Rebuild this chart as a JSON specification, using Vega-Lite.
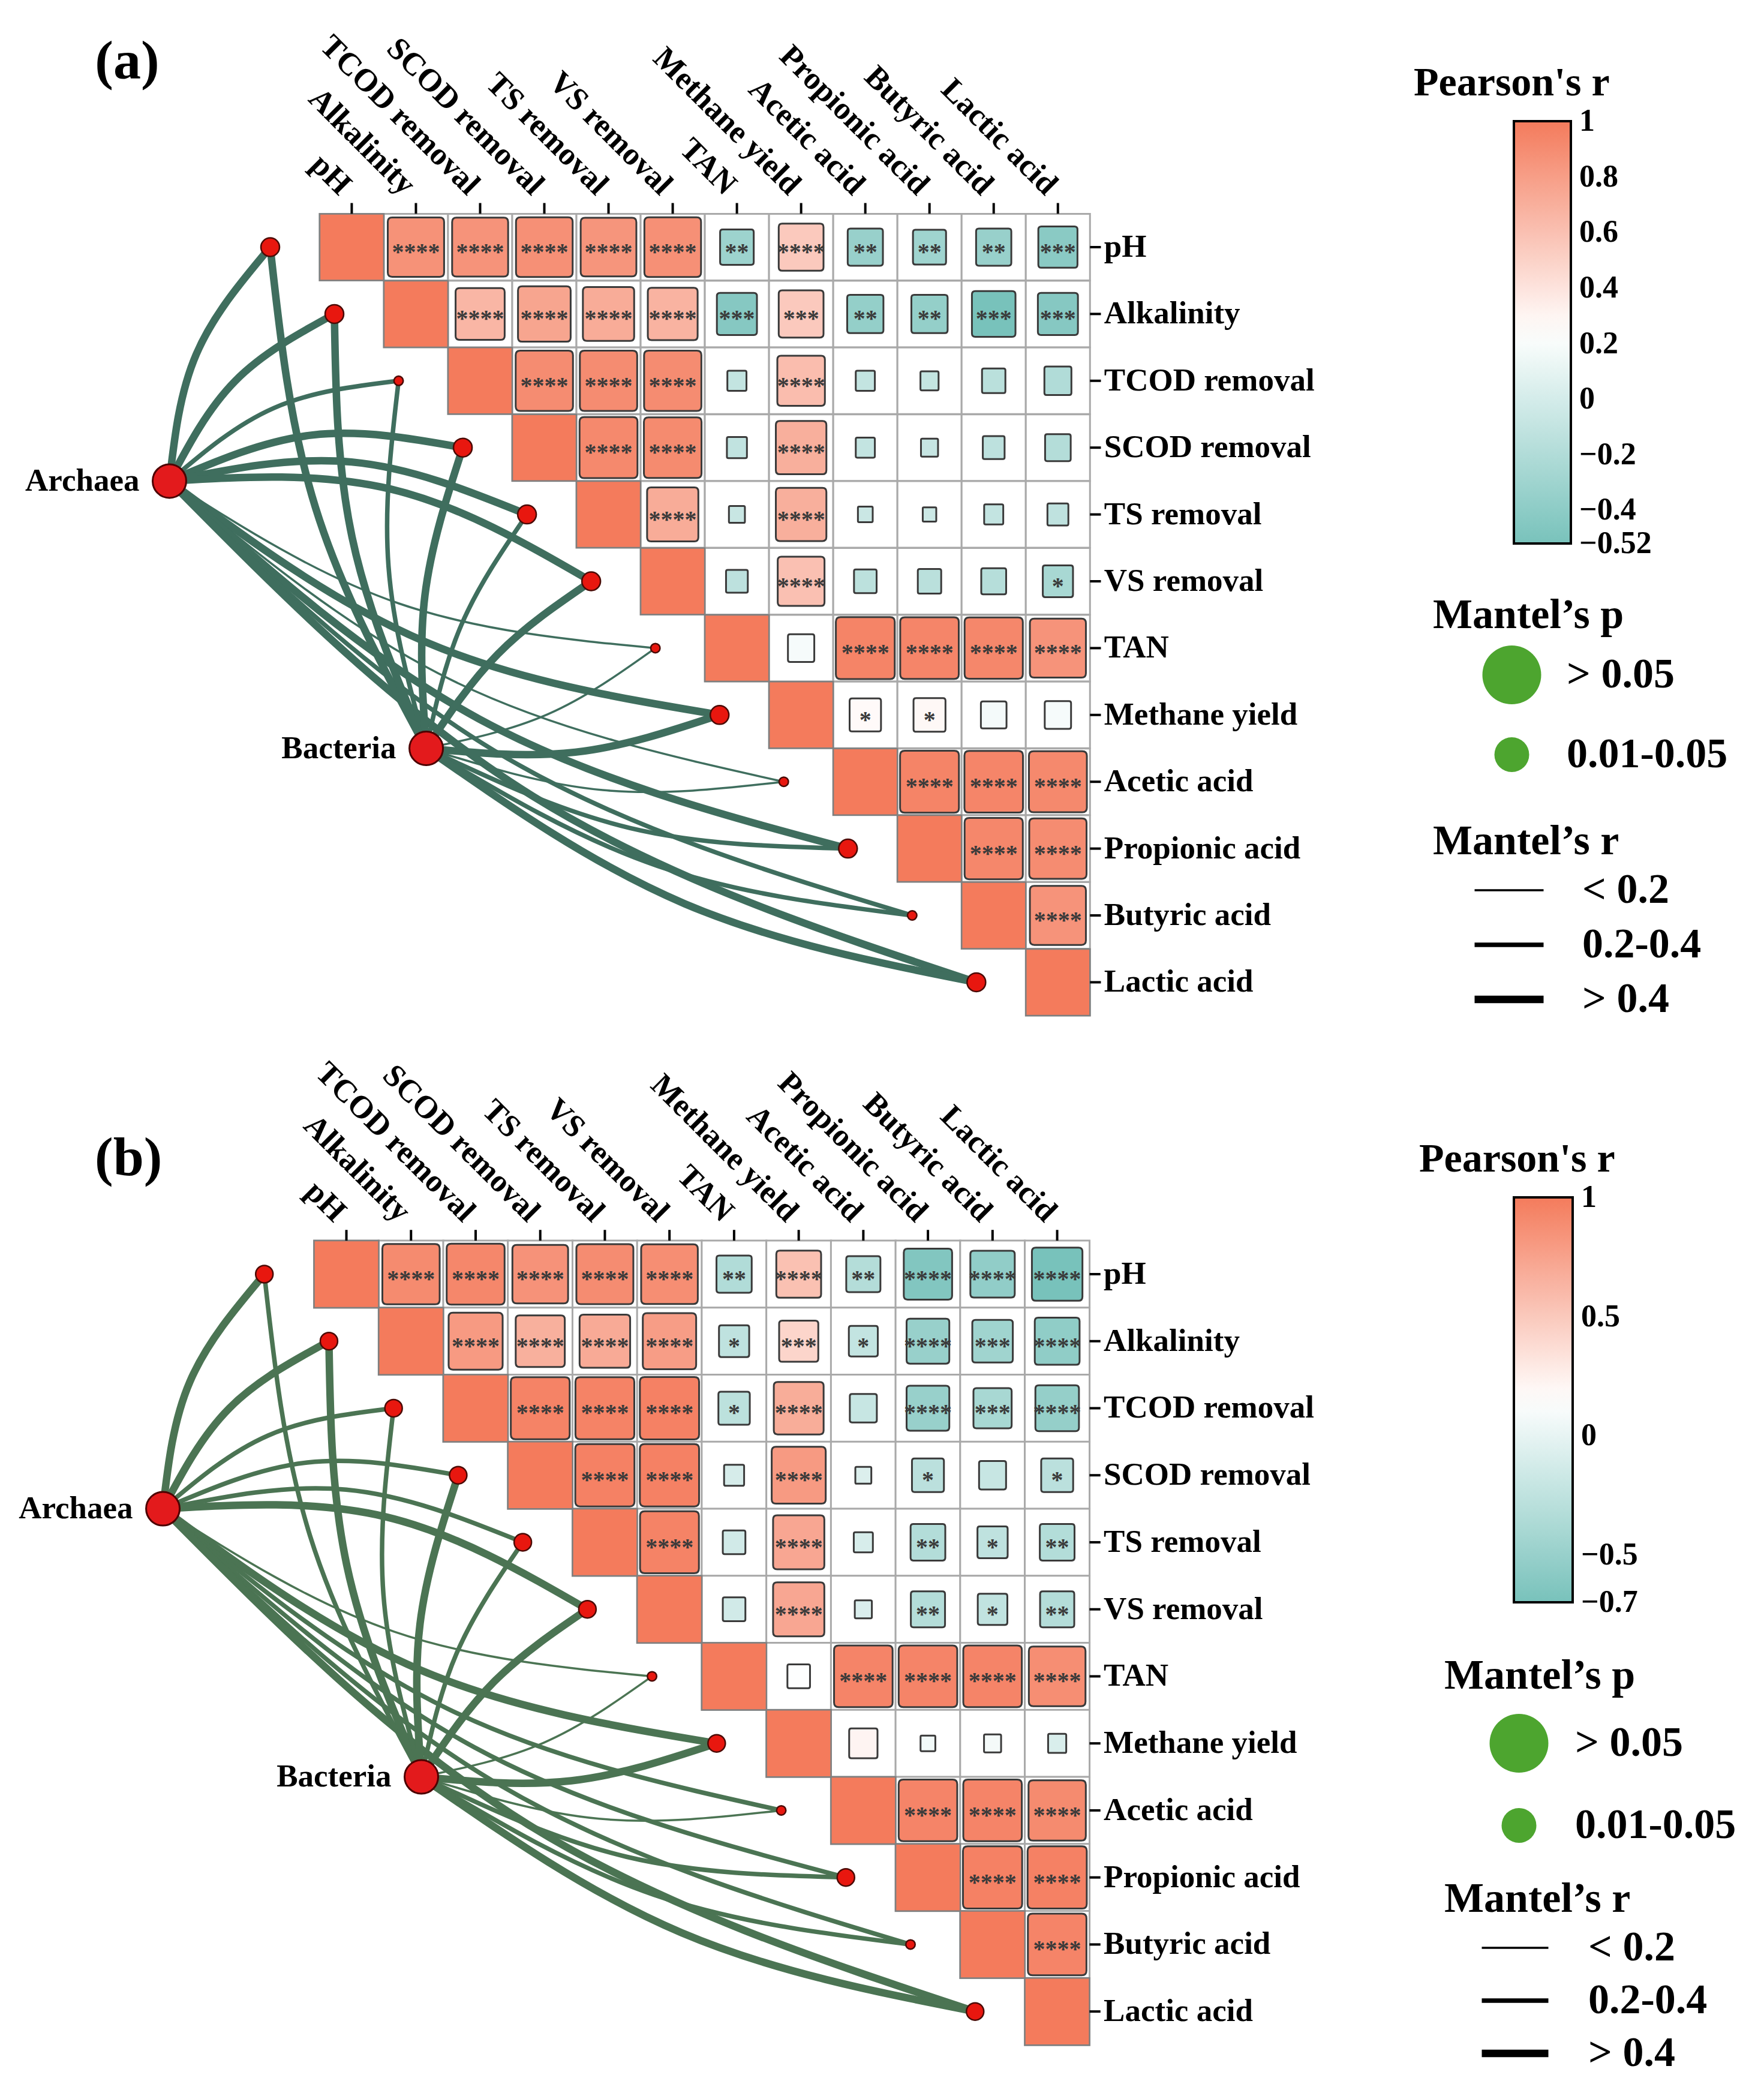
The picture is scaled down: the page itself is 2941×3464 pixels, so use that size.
{
"$schema": "https://vega.github.io/schema/vega-lite/v6.json",
"padding": 0,
"spacing": 0,
"background": "white",
"config": {"view": {"stroke": null}, "font": "Liberation Serif", "concat": {"spacing": 0},
  "legend": {"labelFont": "Liberation Serif", "labelFontWeight": "bold", "labelColor": "black", "titleFont": "Liberation Serif", "titleFontWeight": "bold", "titleColor": "black", "labelLimit": 3000, "titleLimit": 3000, "padding": 0, "titleAnchor": "start", "titleAlign": "left"}},
"datasets": {
"vars": [{"i":1,"v":"pH"},{"i":2,"v":"Alkalinity"},{"i":3,"v":"TCOD removal"},{"i":4,"v":"SCOD removal"},{"i":5,"v":"TS removal"},{"i":6,"v":"VS removal"},{"i":7,"v":"TAN"},{"i":8,"v":"Methane yield"},{"i":9,"v":"Acetic acid"},{"i":10,"v":"Propionic acid"},{"i":11,"v":"Butyric acid"},{"i":12,"v":"Lactic acid"}],
"cellsA": [
{"c":1,"rw":1,"r":1,"s":""},{"c":2,"rw":1,"r":0.87,"s":"****"},{"c":3,"rw":1,"r":0.86,"s":"****"},{"c":4,"rw":1,"r":0.88,"s":"****"},{"c":5,"rw":1,"r":0.85,"s":"****"},{"c":6,"rw":1,"r":0.88,"s":"****"},{"c":7,"rw":1,"r":-0.31,"s":"**"},{"c":8,"rw":1,"r":0.55,"s":"****"},{"c":9,"rw":1,"r":-0.34,"s":"**"},{"c":10,"rw":1,"r":-0.3,"s":"**"},{"c":11,"rw":1,"r":-0.34,"s":"**"},{"c":12,"rw":1,"r":-0.42,"s":"***"},
{"c":2,"rw":2,"r":1,"s":""},{"c":3,"rw":2,"r":0.66,"s":"****"},{"c":4,"rw":2,"r":0.76,"s":"****"},{"c":5,"rw":2,"r":0.72,"s":"****"},{"c":6,"rw":2,"r":0.68,"s":"****"},{"c":7,"rw":2,"r":-0.44,"s":"***"},{"c":8,"rw":2,"r":0.55,"s":"***"},{"c":9,"rw":2,"r":-0.36,"s":"**"},{"c":10,"rw":2,"r":-0.36,"s":"**"},{"c":11,"rw":2,"r":-0.52,"s":"***"},{"c":12,"rw":2,"r":-0.44,"s":"***"},
{"c":3,"rw":3,"r":1,"s":""},{"c":4,"rw":3,"r":0.9,"s":"****"},{"c":5,"rw":3,"r":0.9,"s":"****"},{"c":6,"rw":3,"r":0.9,"s":"****"},{"c":7,"rw":3,"r":-0.1,"s":""},{"c":8,"rw":3,"r":0.62,"s":"****"},{"c":9,"rw":3,"r":-0.1,"s":""},{"c":10,"rw":3,"r":-0.09,"s":""},{"c":11,"rw":3,"r":-0.15,"s":""},{"c":12,"rw":3,"r":-0.2,"s":""},
{"c":4,"rw":4,"r":1,"s":""},{"c":5,"rw":4,"r":0.92,"s":"****"},{"c":6,"rw":4,"r":0.91,"s":"****"},{"c":7,"rw":4,"r":-0.11,"s":""},{"c":8,"rw":4,"r":0.7,"s":"****"},{"c":9,"rw":4,"r":-0.1,"s":""},{"c":10,"rw":4,"r":-0.08,"s":""},{"c":11,"rw":4,"r":-0.13,"s":""},{"c":12,"rw":4,"r":-0.18,"s":""},
{"c":5,"rw":5,"r":1,"s":""},{"c":6,"rw":5,"r":0.72,"s":"****"},{"c":7,"rw":5,"r":-0.07,"s":""},{"c":8,"rw":5,"r":0.7,"s":"****"},{"c":9,"rw":5,"r":-0.06,"s":""},{"c":10,"rw":5,"r":-0.05,"s":""},{"c":11,"rw":5,"r":-0.1,"s":""},{"c":12,"rw":5,"r":-0.12,"s":""},
{"c":6,"rw":6,"r":1,"s":""},{"c":7,"rw":6,"r":-0.13,"s":""},{"c":8,"rw":6,"r":0.6,"s":"****"},{"c":9,"rw":6,"r":-0.14,"s":""},{"c":10,"rw":6,"r":-0.15,"s":""},{"c":11,"rw":6,"r":-0.17,"s":""},{"c":12,"rw":6,"r":-0.25,"s":"*"},
{"c":7,"rw":7,"r":1,"s":""},{"c":8,"rw":7,"r":0.19,"s":""},{"c":9,"rw":7,"r":0.95,"s":"****"},{"c":10,"rw":7,"r":0.94,"s":"****"},{"c":11,"rw":7,"r":0.93,"s":"****"},{"c":12,"rw":7,"r":0.86,"s":"****"},
{"c":8,"rw":8,"r":1,"s":""},{"c":9,"rw":8,"r":0.27,"s":"*"},{"c":10,"rw":8,"r":0.28,"s":"*"},{"c":11,"rw":8,"r":0.18,"s":""},{"c":12,"rw":8,"r":0.19,"s":""},
{"c":9,"rw":9,"r":1,"s":""},{"c":10,"rw":9,"r":0.95,"s":"****"},{"c":11,"rw":9,"r":0.94,"s":"****"},{"c":12,"rw":9,"r":0.92,"s":"****"},
{"c":10,"rw":10,"r":1,"s":""},{"c":11,"rw":10,"r":0.93,"s":"****"},{"c":12,"rw":10,"r":0.9,"s":"****"},
{"c":11,"rw":11,"r":1,"s":""},{"c":12,"rw":11,"r":0.86,"s":"****"},
{"c":12,"rw":12,"r":1,"s":""}
],
"cellsB": [
{"c":1,"rw":1,"r":1,"s":""},{"c":2,"rw":1,"r":0.9,"s":"****"},{"c":3,"rw":1,"r":0.92,"s":"****"},{"c":4,"rw":1,"r":0.85,"s":"****"},{"c":5,"rw":1,"r":0.89,"s":"****"},{"c":6,"rw":1,"r":0.88,"s":"****"},{"c":7,"rw":1,"r":-0.34,"s":"**"},{"c":8,"rw":1,"r":0.55,"s":"****"},{"c":9,"rw":1,"r":-0.32,"s":"**"},{"c":10,"rw":1,"r":-0.64,"s":"****"},{"c":11,"rw":1,"r":-0.54,"s":"****"},{"c":12,"rw":1,"r":-0.7,"s":"****"},
{"c":2,"rw":2,"r":1,"s":""},{"c":3,"rw":2,"r":0.8,"s":"****"},{"c":4,"rw":2,"r":0.66,"s":"****"},{"c":5,"rw":2,"r":0.7,"s":"****"},{"c":6,"rw":2,"r":0.78,"s":"****"},{"c":7,"rw":2,"r":-0.25,"s":"*"},{"c":8,"rw":2,"r":0.42,"s":"***"},{"c":9,"rw":2,"r":-0.23,"s":"*"},{"c":10,"rw":2,"r":-0.5,"s":"****"},{"c":11,"rw":2,"r":-0.45,"s":"***"},{"c":12,"rw":2,"r":-0.55,"s":"****"},
{"c":3,"rw":3,"r":1,"s":""},{"c":4,"rw":3,"r":0.95,"s":"****"},{"c":5,"rw":3,"r":0.95,"s":"****"},{"c":6,"rw":3,"r":0.96,"s":"****"},{"c":7,"rw":3,"r":-0.27,"s":"*"},{"c":8,"rw":3,"r":0.68,"s":"****"},{"c":9,"rw":3,"r":-0.2,"s":""},{"c":10,"rw":3,"r":-0.5,"s":"****"},{"c":11,"rw":3,"r":-0.4,"s":"***"},{"c":12,"rw":3,"r":-0.52,"s":"****"},
{"c":4,"rw":4,"r":1,"s":""},{"c":5,"rw":4,"r":0.96,"s":"****"},{"c":6,"rw":4,"r":0.96,"s":"****"},{"c":7,"rw":4,"r":-0.11,"s":""},{"c":8,"rw":4,"r":0.8,"s":"****"},{"c":9,"rw":4,"r":-0.07,"s":""},{"c":10,"rw":4,"r":-0.28,"s":"*"},{"c":11,"rw":4,"r":-0.2,"s":""},{"c":12,"rw":4,"r":-0.28,"s":"*"},
{"c":5,"rw":5,"r":1,"s":""},{"c":6,"rw":5,"r":0.95,"s":"****"},{"c":7,"rw":5,"r":-0.14,"s":""},{"c":8,"rw":5,"r":0.72,"s":"****"},{"c":9,"rw":5,"r":-0.1,"s":""},{"c":10,"rw":5,"r":-0.33,"s":"**"},{"c":11,"rw":5,"r":-0.25,"s":"*"},{"c":12,"rw":5,"r":-0.33,"s":"**"},
{"c":6,"rw":6,"r":1,"s":""},{"c":7,"rw":6,"r":-0.14,"s":""},{"c":8,"rw":6,"r":0.72,"s":"****"},{"c":9,"rw":6,"r":-0.08,"s":""},{"c":10,"rw":6,"r":-0.32,"s":"**"},{"c":11,"rw":6,"r":-0.24,"s":"*"},{"c":12,"rw":6,"r":-0.32,"s":"**"},
{"c":7,"rw":7,"r":1,"s":""},{"c":8,"rw":7,"r":0.14,"s":""},{"c":9,"rw":7,"r":0.94,"s":"****"},{"c":10,"rw":7,"r":0.94,"s":"****"},{"c":11,"rw":7,"r":0.94,"s":"****"},{"c":12,"rw":7,"r":0.88,"s":"****"},
{"c":8,"rw":8,"r":1,"s":""},{"c":9,"rw":8,"r":0.22,"s":""},{"c":10,"rw":8,"r":0.06,"s":""},{"c":11,"rw":8,"r":0.08,"s":""},{"c":12,"rw":8,"r":-0.09,"s":""},
{"c":9,"rw":9,"r":1,"s":""},{"c":10,"rw":9,"r":0.94,"s":"****"},{"c":11,"rw":9,"r":0.94,"s":"****"},{"c":12,"rw":9,"r":0.9,"s":"****"},
{"c":10,"rw":10,"r":1,"s":""},{"c":11,"rw":10,"r":0.96,"s":"****"},{"c":12,"rw":10,"r":0.96,"s":"****"},
{"c":11,"rw":11,"r":1,"s":""},{"c":12,"rw":11,"r":0.94,"s":"****"},
{"c":12,"rw":12,"r":1,"s":""}
],
"linksA": [
{"id":"A1","k":0,"x":-1.84,"y":4.5,"w":"> 0.4"},{"id":"A1","k":1,"x":-1.42,"y":2.599,"w":"> 0.4"},{"id":"A1","k":2,"x":-0.27,"y":1,"w":"> 0.4"},
{"id":"A2","k":0,"x":-1.84,"y":4.5,"w":"> 0.4"},{"id":"A2","k":1,"x":-0.815,"y":3.003,"w":"> 0.4"},{"id":"A2","k":2,"x":0.73,"y":2,"w":"> 0.4"},
{"id":"A3","k":0,"x":-1.84,"y":4.5,"w":"0.2-0.4"},{"id":"A3","k":1,"x":-0.211,"y":3.407,"w":"0.2-0.4"},{"id":"A3","k":2,"x":1.73,"y":3,"w":"0.2-0.4"},
{"id":"A4","k":0,"x":-1.84,"y":4.5,"w":"> 0.4"},{"id":"A4","k":1,"x":0.393,"y":3.811,"w":"> 0.4"},{"id":"A4","k":2,"x":2.73,"y":4,"w":"> 0.4"},
{"id":"A5","k":0,"x":-1.84,"y":4.5,"w":"> 0.4"},{"id":"A5","k":1,"x":0.997,"y":4.215,"w":"> 0.4"},{"id":"A5","k":2,"x":3.73,"y":5,"w":"> 0.4"},
{"id":"A6","k":0,"x":-1.84,"y":4.5,"w":"> 0.4"},{"id":"A6","k":1,"x":1.601,"y":4.619,"w":"> 0.4"},{"id":"A6","k":2,"x":4.73,"y":6,"w":"> 0.4"},
{"id":"A7","k":0,"x":-1.84,"y":4.5,"w":"< 0.2"},{"id":"A7","k":1,"x":1.736,"y":6.332,"w":"< 0.2"},{"id":"A7","k":2,"x":5.73,"y":7,"w":"< 0.2"},
{"id":"A8","k":0,"x":-1.84,"y":4.5,"w":"> 0.4"},{"id":"A8","k":1,"x":2.153,"y":6.909,"w":"> 0.4"},{"id":"A8","k":2,"x":6.73,"y":8,"w":"> 0.4"},
{"id":"A9","k":0,"x":-1.84,"y":4.5,"w":"< 0.2"},{"id":"A9","k":1,"x":2.57,"y":7.485,"w":"< 0.2"},{"id":"A9","k":2,"x":7.73,"y":9,"w":"< 0.2"},
{"id":"A10","k":0,"x":-1.84,"y":4.5,"w":"> 0.4"},{"id":"A10","k":1,"x":2.987,"y":8.062,"w":"> 0.4"},{"id":"A10","k":2,"x":8.73,"y":10,"w":"> 0.4"},
{"id":"A11","k":0,"x":-1.84,"y":4.5,"w":"0.2-0.4"},{"id":"A11","k":1,"x":3.404,"y":8.639,"w":"0.2-0.4"},{"id":"A11","k":2,"x":9.73,"y":11,"w":"0.2-0.4"},
{"id":"A12","k":0,"x":-1.84,"y":4.5,"w":"> 0.4"},{"id":"A12","k":1,"x":3.821,"y":9.216,"w":"> 0.4"},{"id":"A12","k":2,"x":10.73,"y":12,"w":"> 0.4"},
{"id":"B1","k":0,"x":2.16,"y":8.5,"w":"> 0.4"},{"id":"B1","k":1,"x":0.437,"y":4.902,"w":"> 0.4"},{"id":"B1","k":2,"x":-0.27,"y":1,"w":"> 0.4"},
{"id":"B2","k":0,"x":2.16,"y":8.5,"w":"> 0.4"},{"id":"B2","k":1,"x":1.005,"y":5.339,"w":"> 0.4"},{"id":"B2","k":2,"x":0.73,"y":2,"w":"> 0.4"},
{"id":"B3","k":0,"x":2.16,"y":8.5,"w":"0.2-0.4"},{"id":"B3","k":1,"x":1.573,"y":5.777,"w":"0.2-0.4"},{"id":"B3","k":2,"x":1.73,"y":3,"w":"0.2-0.4"},
{"id":"B4","k":0,"x":2.16,"y":8.5,"w":"> 0.4"},{"id":"B4","k":1,"x":2.14,"y":6.214,"w":"> 0.4"},{"id":"B4","k":2,"x":2.73,"y":4,"w":"> 0.4"},
{"id":"B5","k":0,"x":2.16,"y":8.5,"w":"0.2-0.4"},{"id":"B5","k":1,"x":2.708,"y":6.652,"w":"0.2-0.4"},{"id":"B5","k":2,"x":3.73,"y":5,"w":"0.2-0.4"},
{"id":"B6","k":0,"x":2.16,"y":8.5,"w":"> 0.4"},{"id":"B6","k":1,"x":3.276,"y":7.089,"w":"> 0.4"},{"id":"B6","k":2,"x":4.73,"y":6,"w":"> 0.4"},
{"id":"B7","k":0,"x":2.16,"y":8.5,"w":"< 0.2"},{"id":"B7","k":1,"x":4.054,"y":7.99,"w":"< 0.2"},{"id":"B7","k":2,"x":5.73,"y":7,"w":"< 0.2"},
{"id":"B8","k":0,"x":2.16,"y":8.5,"w":"> 0.4"},{"id":"B8","k":1,"x":4.481,"y":8.557,"w":"> 0.4"},{"id":"B8","k":2,"x":6.73,"y":8,"w":"> 0.4"},
{"id":"B9","k":0,"x":2.16,"y":8.5,"w":"< 0.2"},{"id":"B9","k":1,"x":4.909,"y":9.124,"w":"< 0.2"},{"id":"B9","k":2,"x":7.73,"y":9,"w":"< 0.2"},
{"id":"B10","k":0,"x":2.16,"y":8.5,"w":"0.2-0.4"},{"id":"B10","k":1,"x":5.336,"y":9.692,"w":"0.2-0.4"},{"id":"B10","k":2,"x":8.73,"y":10,"w":"0.2-0.4"},
{"id":"B11","k":0,"x":2.16,"y":8.5,"w":"0.2-0.4"},{"id":"B11","k":1,"x":5.763,"y":10.259,"w":"0.2-0.4"},{"id":"B11","k":2,"x":9.73,"y":11,"w":"0.2-0.4"},
{"id":"B12","k":0,"x":2.16,"y":8.5,"w":"> 0.4"},{"id":"B12","k":1,"x":6.19,"y":10.826,"w":"> 0.4"},{"id":"B12","k":2,"x":10.73,"y":12,"w":"> 0.4"}
],
"linksB": [
{"id":"A1","k":0,"x":-1.84,"y":4.5,"w":"> 0.4"},{"id":"A1","k":1,"x":-1.42,"y":2.599,"w":"> 0.4"},{"id":"A1","k":2,"x":-0.27,"y":1,"w":"> 0.4"},
{"id":"A2","k":0,"x":-1.84,"y":4.5,"w":"> 0.4"},{"id":"A2","k":1,"x":-0.815,"y":3.003,"w":"> 0.4"},{"id":"A2","k":2,"x":0.73,"y":2,"w":"> 0.4"},
{"id":"A3","k":0,"x":-1.84,"y":4.5,"w":"0.2-0.4"},{"id":"A3","k":1,"x":-0.211,"y":3.407,"w":"0.2-0.4"},{"id":"A3","k":2,"x":1.73,"y":3,"w":"0.2-0.4"},
{"id":"A4","k":0,"x":-1.84,"y":4.5,"w":"0.2-0.4"},{"id":"A4","k":1,"x":0.393,"y":3.811,"w":"0.2-0.4"},{"id":"A4","k":2,"x":2.73,"y":4,"w":"0.2-0.4"},
{"id":"A5","k":0,"x":-1.84,"y":4.5,"w":"0.2-0.4"},{"id":"A5","k":1,"x":0.997,"y":4.215,"w":"0.2-0.4"},{"id":"A5","k":2,"x":3.73,"y":5,"w":"0.2-0.4"},
{"id":"A6","k":0,"x":-1.84,"y":4.5,"w":"> 0.4"},{"id":"A6","k":1,"x":1.601,"y":4.619,"w":"> 0.4"},{"id":"A6","k":2,"x":4.73,"y":6,"w":"> 0.4"},
{"id":"A7","k":0,"x":-1.84,"y":4.5,"w":"< 0.2"},{"id":"A7","k":1,"x":1.736,"y":6.332,"w":"< 0.2"},{"id":"A7","k":2,"x":5.73,"y":7,"w":"< 0.2"},
{"id":"A8","k":0,"x":-1.84,"y":4.5,"w":"> 0.4"},{"id":"A8","k":1,"x":2.153,"y":6.909,"w":"> 0.4"},{"id":"A8","k":2,"x":6.73,"y":8,"w":"> 0.4"},
{"id":"A9","k":0,"x":-1.84,"y":4.5,"w":"0.2-0.4"},{"id":"A9","k":1,"x":2.57,"y":7.485,"w":"0.2-0.4"},{"id":"A9","k":2,"x":7.73,"y":9,"w":"0.2-0.4"},
{"id":"A10","k":0,"x":-1.84,"y":4.5,"w":"0.2-0.4"},{"id":"A10","k":1,"x":2.987,"y":8.062,"w":"0.2-0.4"},{"id":"A10","k":2,"x":8.73,"y":10,"w":"0.2-0.4"},
{"id":"A11","k":0,"x":-1.84,"y":4.5,"w":"0.2-0.4"},{"id":"A11","k":1,"x":3.404,"y":8.639,"w":"0.2-0.4"},{"id":"A11","k":2,"x":9.73,"y":11,"w":"0.2-0.4"},
{"id":"A12","k":0,"x":-1.84,"y":4.5,"w":"> 0.4"},{"id":"A12","k":1,"x":3.821,"y":9.216,"w":"> 0.4"},{"id":"A12","k":2,"x":10.73,"y":12,"w":"> 0.4"},
{"id":"B1","k":0,"x":2.16,"y":8.5,"w":"0.2-0.4"},{"id":"B1","k":1,"x":0.437,"y":4.902,"w":"0.2-0.4"},{"id":"B1","k":2,"x":-0.27,"y":1,"w":"0.2-0.4"},
{"id":"B2","k":0,"x":2.16,"y":8.5,"w":"> 0.4"},{"id":"B2","k":1,"x":1.005,"y":5.339,"w":"> 0.4"},{"id":"B2","k":2,"x":0.73,"y":2,"w":"> 0.4"},
{"id":"B3","k":0,"x":2.16,"y":8.5,"w":"0.2-0.4"},{"id":"B3","k":1,"x":1.573,"y":5.777,"w":"0.2-0.4"},{"id":"B3","k":2,"x":1.73,"y":3,"w":"0.2-0.4"},
{"id":"B4","k":0,"x":2.16,"y":8.5,"w":"> 0.4"},{"id":"B4","k":1,"x":2.14,"y":6.214,"w":"> 0.4"},{"id":"B4","k":2,"x":2.73,"y":4,"w":"> 0.4"},
{"id":"B5","k":0,"x":2.16,"y":8.5,"w":"0.2-0.4"},{"id":"B5","k":1,"x":2.708,"y":6.652,"w":"0.2-0.4"},{"id":"B5","k":2,"x":3.73,"y":5,"w":"0.2-0.4"},
{"id":"B6","k":0,"x":2.16,"y":8.5,"w":"> 0.4"},{"id":"B6","k":1,"x":3.276,"y":7.089,"w":"> 0.4"},{"id":"B6","k":2,"x":4.73,"y":6,"w":"> 0.4"},
{"id":"B7","k":0,"x":2.16,"y":8.5,"w":"< 0.2"},{"id":"B7","k":1,"x":4.054,"y":7.99,"w":"< 0.2"},{"id":"B7","k":2,"x":5.73,"y":7,"w":"< 0.2"},
{"id":"B8","k":0,"x":2.16,"y":8.5,"w":"> 0.4"},{"id":"B8","k":1,"x":4.481,"y":8.557,"w":"> 0.4"},{"id":"B8","k":2,"x":6.73,"y":8,"w":"> 0.4"},
{"id":"B9","k":0,"x":2.16,"y":8.5,"w":"< 0.2"},{"id":"B9","k":1,"x":4.909,"y":9.124,"w":"< 0.2"},{"id":"B9","k":2,"x":7.73,"y":9,"w":"< 0.2"},
{"id":"B10","k":0,"x":2.16,"y":8.5,"w":"0.2-0.4"},{"id":"B10","k":1,"x":5.336,"y":9.692,"w":"0.2-0.4"},{"id":"B10","k":2,"x":8.73,"y":10,"w":"0.2-0.4"},
{"id":"B11","k":0,"x":2.16,"y":8.5,"w":"0.2-0.4"},{"id":"B11","k":1,"x":5.763,"y":10.259,"w":"0.2-0.4"},{"id":"B11","k":2,"x":9.73,"y":11,"w":"0.2-0.4"},
{"id":"B12","k":0,"x":2.16,"y":8.5,"w":"> 0.4"},{"id":"B12","k":1,"x":6.19,"y":10.826,"w":"> 0.4"},{"id":"B12","k":2,"x":10.73,"y":12,"w":"> 0.4"}
],
"nodesA": [
{"v":"pH","x":-0.27,"y":1,"p":"> 0.05"},{"v":"Alkalinity","x":0.73,"y":2,"p":"> 0.05"},{"v":"TCOD removal","x":1.73,"y":3,"p":"0.01-0.05"},{"v":"SCOD removal","x":2.73,"y":4,"p":"> 0.05"},{"v":"TS removal","x":3.73,"y":5,"p":"> 0.05"},{"v":"VS removal","x":4.73,"y":6,"p":"> 0.05"},{"v":"TAN","x":5.73,"y":7,"p":"0.01-0.05"},{"v":"Methane yield","x":6.73,"y":8,"p":"> 0.05"},{"v":"Acetic acid","x":7.73,"y":9,"p":"0.01-0.05"},{"v":"Propionic acid","x":8.73,"y":10,"p":"> 0.05"},{"v":"Butyric acid","x":9.73,"y":11,"p":"0.01-0.05"},{"v":"Lactic acid","x":10.73,"y":12,"p":"> 0.05"}
],
"nodesB": [
{"v":"pH","x":-0.27,"y":1,"p":"> 0.05"},{"v":"Alkalinity","x":0.73,"y":2,"p":"> 0.05"},{"v":"TCOD removal","x":1.73,"y":3,"p":"> 0.05"},{"v":"SCOD removal","x":2.73,"y":4,"p":"> 0.05"},{"v":"TS removal","x":3.73,"y":5,"p":"> 0.05"},{"v":"VS removal","x":4.73,"y":6,"p":"> 0.05"},{"v":"TAN","x":5.73,"y":7,"p":"0.01-0.05"},{"v":"Methane yield","x":6.73,"y":8,"p":"> 0.05"},{"v":"Acetic acid","x":7.73,"y":9,"p":"0.01-0.05"},{"v":"Propionic acid","x":8.73,"y":10,"p":"> 0.05"},{"v":"Butyric acid","x":9.73,"y":11,"p":"0.01-0.05"},{"v":"Lactic acid","x":10.73,"y":12,"p":"> 0.05"}
],
"hubs": [{"h":"Archaea","x":-1.84,"y":4.5},{"h":"Bacteria","x":2.16,"y":8.5}]
},
"resolve": {"scale": {"color": "independent", "size": "independent", "strokeWidth": "independent", "x": "independent", "y": "independent"}, "legend": {"color": "independent", "size": "independent", "strokeWidth": "independent"}},
"vconcat": [
{
"width": 2941, "height": 1732,
"resolve": {"scale": {"size": "independent"}, "legend": {"size": "independent"}},
"layer": [
{"data": {"name": "cellsA"},
 "mark": {"type": "rect", "width": 107, "height": 111, "fill": "white", "stroke": "#A9A9A9", "strokeWidth": 3},
 "encoding": {
  "x": {"field": "c", "type": "quantitative", "scale": {"domain": [-4.479, 22.999], "nice": false, "zero": false}, "axis": null},
  "y": {"field": "rw", "type": "quantitative", "scale": {"domain": [-2.698, 12.849], "reverse": true, "nice": false, "zero": false}, "axis": null}
 }},
{"data": {"name": "cellsA"}, "transform": [{"filter": "datum.c == datum.rw"}],
 "mark": {"type": "rect", "width": 107, "height": 111, "stroke": "#7F7F7F", "strokeWidth": 2.5},
 "encoding": {
  "x": {"field": "c", "type": "quantitative", "scale": {"domain": [-4.479, 22.999], "nice": false, "zero": false}, "axis": null},
  "y": {"field": "rw", "type": "quantitative", "scale": {"domain": [-2.698, 12.849], "reverse": true, "nice": false, "zero": false}, "axis": null},
  "color": {"field": "r", "type": "quantitative", "scale": {"domain": [-0.52, 0.24, 1], "range": ["#78C2BB", "#FFFFFF", "#F47B5C"], "interpolate": "rgb"},
   "legend": {"title": "Pearson's r", "orient": "none", "legendX": 2357, "legendY": 105, "direction": "vertical", "gradientLength": 704, "gradientThickness": 95, "gradientStrokeColor": "black", "gradientStrokeWidth": 4, "values": [-0.52,-0.4,-0.2,0,0.2,0.4,0.6,0.8,1], "format": ".2~f", "labelFontSize": 52, "labelBaseline": "middle", "labelOffset": 14, "labelOverlap": false, "titleFontSize": 68, "titlePadding": 29, "encode": {"title": {"update": {"dx": {"value": -167}}}, "labels": {"update": {"baseline": {"value": "middle"}}}}}}
 }},
{"data": {"name": "cellsA"}, "transform": [{"filter": "datum.c != datum.rw"}],
 "mark": {"type": "point", "filled": true, "opacity": 1, "shape": "M-0.8,-1L0.8,-1Q0.95,-1 0.95,-0.85L0.95,0.85Q0.95,1 0.8,1L-0.8,1Q-0.95,1 -0.95,0.85L-0.95,-0.85Q-0.95,-1 -0.8,-1Z", "stroke": "#3A3A3A", "strokeWidth": 3},
 "encoding": {
  "x": {"field": "c", "type": "quantitative", "scale": {"domain": [-4.479, 22.999], "nice": false, "zero": false}, "axis": null},
  "y": {"field": "rw", "type": "quantitative", "scale": {"domain": [-2.698, 12.849], "reverse": true, "nice": false, "zero": false}, "axis": null},
  "color": {"field": "r", "type": "quantitative", "scale": {"domain": [-0.52, 0.24, 1], "range": ["#78C2BB", "#FFFFFF", "#F47B5C"], "interpolate": "rgb"},
   "legend": {"title": "Pearson's r", "orient": "none", "legendX": 2357, "legendY": 105, "direction": "vertical", "gradientLength": 704, "gradientThickness": 95, "gradientStrokeColor": "black", "gradientStrokeWidth": 4, "values": [-0.52,-0.4,-0.2,0,0.2,0.4,0.6,0.8,1], "format": ".2~f", "labelFontSize": 52, "labelBaseline": "middle", "labelOffset": 14, "labelOverlap": false, "titleFontSize": 68, "titlePadding": 29, "encode": {"title": {"update": {"dx": {"value": -167}}}, "labels": {"update": {"baseline": {"value": "middle"}}}}}},
  "size": {"field": "r", "type": "quantitative", "scale": {"domain": [-1, 0, 1], "range": [11236, 0, 11236]}, "legend": null}
 }},
{"data": {"name": "cellsA"}, "transform": [{"filter": "datum.s != ''"}],
 "mark": {"type": "text", "fontSize": 40, "fontWeight": "bold", "color": "#3A3A3A", "baseline": "middle", "align": "center", "dy": 9},
 "encoding": {
  "x": {"field": "c", "type": "quantitative", "scale": {"domain": [-4.479, 22.999], "nice": false, "zero": false}, "axis": null},
  "y": {"field": "rw", "type": "quantitative", "scale": {"domain": [-2.698, 12.849], "reverse": true, "nice": false, "zero": false}, "axis": null},
  "text": {"field": "s"}
 }},
{"data": {"name": "vars"},
 "mark": {"type": "rule", "color": "black", "strokeWidth": 4},
 "encoding": {
  "x": {"field": "i", "type": "quantitative", "scale": {"domain": [-4.479, 22.999], "nice": false, "zero": false}, "axis": null},
  "y": {"datum": 0.5, "type": "quantitative", "scale": {"domain": [-2.698, 12.849], "reverse": true, "nice": false, "zero": false}, "axis": null},
  "y2": {"datum": 0.34}
 }},
{"data": {"name": "vars"},
 "mark": {"type": "text", "angle": 45, "align": "right", "baseline": "middle", "dx": -14, "fontSize": 53, "fontWeight": "bold", "color": "black"},
 "encoding": {
  "x": {"field": "i", "type": "quantitative", "scale": {"domain": [-4.479, 22.999], "nice": false, "zero": false}, "axis": null},
  "y": {"datum": 0.23, "type": "quantitative", "scale": {"domain": [-2.698, 12.849], "reverse": true, "nice": false, "zero": false}, "axis": null},
  "text": {"field": "v"}
 }},
{"data": {"name": "vars"},
 "mark": {"type": "rule", "color": "black", "strokeWidth": 4},
 "encoding": {
  "y": {"field": "i", "type": "quantitative", "scale": {"domain": [-2.698, 12.849], "reverse": true, "nice": false, "zero": false}, "axis": null},
  "x": {"datum": 12.5, "type": "quantitative", "scale": {"domain": [-4.479, 22.999], "nice": false, "zero": false}, "axis": null},
  "x2": {"datum": 12.67}
 }},
{"data": {"name": "vars"},
 "mark": {"type": "text", "align": "left", "baseline": "middle", "fontSize": 53, "fontWeight": "bold", "color": "black"},
 "encoding": {
  "y": {"field": "i", "type": "quantitative", "scale": {"domain": [-2.698, 12.849], "reverse": true, "nice": false, "zero": false}, "axis": null},
  "x": {"datum": 12.72, "type": "quantitative", "scale": {"domain": [-4.479, 22.999], "nice": false, "zero": false}, "axis": null},
  "text": {"field": "v"}
 }},
{"data": {"values": [{"t": "(a)"}]},
 "mark": {"type": "text", "align": "left", "baseline": "alphabetic", "fontSize": 92, "fontWeight": "bold", "color": "black"},
 "encoding": {
  "x": {"datum": -3.0, "type": "quantitative", "scale": {"domain": [-4.479, 22.999], "nice": false, "zero": false}, "axis": null},
  "y": {"datum": -1.52, "type": "quantitative", "scale": {"domain": [-2.698, 12.849], "reverse": true, "nice": false, "zero": false}, "axis": null},
  "text": {"field": "t"}
 }},
{"data": {"name": "linksA"},
 "mark": {"type": "line", "interpolate": "natural", "color": "#3F6E5E", "strokeCap": "round"},
 "encoding": {
  "x": {"field": "x", "type": "quantitative", "scale": {"domain": [-4.479, 22.999], "nice": false, "zero": false}, "axis": null},
  "y": {"field": "y", "type": "quantitative", "scale": {"domain": [-2.698, 12.849], "reverse": true, "nice": false, "zero": false}, "axis": null},
  "detail": {"field": "id"},
  "order": {"field": "k", "type": "quantitative"},
  "strokeWidth": {"field": "w", "type": "nominal", "scale": {"type": "ordinal", "domain": ["< 0.2", "0.2-0.4", "> 0.4"], "range": [3.5, 7.5, 12.5]},
   "legend": {"title": "Mantel’s r", "orient": "none", "legendX": 2389, "legendY": 1369, "direction": "vertical", "symbolType": "stroke", "symbolSize": 13225, "symbolOffset": 63, "labelOffset": 58, "clipHeight": 60, "rowPadding": 21, "titlePadding": 15, "titleFontSize": 70, "labelFontSize": 70, "symbolStrokeColor": "black", "encode": {"symbols": {"update": {"stroke": {"value": "black"}}}}}}
 }},
{"data": {"name": "nodesA"},
 "mark": {"type": "circle", "color": "#E8170F", "stroke": "#4A0A05", "strokeWidth": 2.5, "opacity": 1},
 "encoding": {
  "x": {"field": "x", "type": "quantitative", "scale": {"domain": [-4.479, 22.999], "nice": false, "zero": false}, "axis": null},
  "y": {"field": "y", "type": "quantitative", "scale": {"domain": [-2.698, 12.849], "reverse": true, "nice": false, "zero": false}, "axis": null},
  "size": {"field": "p", "type": "nominal", "scale": {"type": "ordinal", "domain": ["> 0.05", "0.01-0.05"], "range": [961, 240]}, "legend": null}
 }},
{"data": {"name": "nodesA"},
 "mark": {"type": "circle", "color": "#4DA52F", "stroke": "#1E5B14", "strokeWidth": 5, "opacity": 0},
 "encoding": {
  "x": {"field": "x", "type": "quantitative", "scale": {"domain": [-4.479, 22.999], "nice": false, "zero": false}, "axis": null},
  "y": {"field": "y", "type": "quantitative", "scale": {"domain": [-2.698, 12.849], "reverse": true, "nice": false, "zero": false}, "axis": null},
  "size": {"field": "p", "type": "nominal", "scale": {"type": "ordinal", "domain": ["> 0.05", "0.01-0.05"], "range": [9604, 3364]},
   "legend": {"title": "Mantel’s p", "orient": "none", "legendX": 2389, "legendY": 992, "direction": "vertical", "symbolOffset": 80, "labelOffset": 40, "clipHeight": 100, "rowPadding": 33, "titlePadding": 13, "titleFontSize": 70, "labelFontSize": 70, "symbolOpacity": 1, "symbolFillColor": "#4DA52F", "symbolStrokeColor": "#1E5B14", "symbolStrokeWidth": 5, "encode": {"symbols": {"update": {"opacity": {"value": 1}, "fill": {"value": "#4DA52F"}, "stroke": {"value": "#1E5B14"}}}}}}
 }},
{"data": {"name": "hubs"},
 "mark": {"type": "circle", "size": 3136, "color": "#E31A1C", "stroke": "#4D0000", "strokeWidth": 3, "opacity": 1},
 "encoding": {
  "x": {"field": "x", "type": "quantitative", "scale": {"domain": [-4.479, 22.999], "nice": false, "zero": false}, "axis": null},
  "y": {"field": "y", "type": "quantitative", "scale": {"domain": [-2.698, 12.849], "reverse": true, "nice": false, "zero": false}, "axis": null}
 }},
{"data": {"name": "hubs"},
 "mark": {"type": "text", "align": "right", "baseline": "middle", "dx": -50, "fontSize": 53, "fontWeight": "bold", "color": "black"},
 "encoding": {
  "x": {"field": "x", "type": "quantitative", "scale": {"domain": [-4.479, 22.999], "nice": false, "zero": false}, "axis": null},
  "y": {"field": "y", "type": "quantitative", "scale": {"domain": [-2.698, 12.849], "reverse": true, "nice": false, "zero": false}, "axis": null},
  "text": {"field": "h"}
 }}
]
},
{
"width": 2941, "height": 1732,
"resolve": {"scale": {"size": "independent"}, "legend": {"size": "independent"}},
"layer": [
{"data": {"name": "cellsB"},
 "mark": {"type": "rect", "width": 108, "height": 112, "fill": "white", "stroke": "#A9A9A9", "strokeWidth": 3},
 "encoding": {
  "x": {"field": "c", "type": "quantitative", "scale": {"domain": [-4.361, 22.939], "nice": false, "zero": false}, "axis": null},
  "y": {"field": "rw", "type": "quantitative", "scale": {"domain": [-2.508, 12.992], "reverse": true, "nice": false, "zero": false}, "axis": null}
 }},
{"data": {"name": "cellsB"}, "transform": [{"filter": "datum.c == datum.rw"}],
 "mark": {"type": "rect", "width": 108, "height": 112, "stroke": "#7F7F7F", "strokeWidth": 2.5},
 "encoding": {
  "x": {"field": "c", "type": "quantitative", "scale": {"domain": [-4.361, 22.939], "nice": false, "zero": false}, "axis": null},
  "y": {"field": "rw", "type": "quantitative", "scale": {"domain": [-2.508, 12.992], "reverse": true, "nice": false, "zero": false}, "axis": null},
  "color": {"field": "r", "type": "quantitative", "scale": {"domain": [-0.7, 0.15, 1], "range": ["#78C2BB", "#FFFFFF", "#F47B5C"], "interpolate": "rgb"},
   "legend": {"title": "Pearson's r", "orient": "none", "legendX": 2366, "legendY": 167, "direction": "vertical", "gradientLength": 675, "gradientThickness": 98, "gradientStrokeColor": "black", "gradientStrokeWidth": 4, "values": [-0.7,-0.5,0,0.5,1], "format": ".2~f", "labelFontSize": 52, "labelBaseline": "middle", "labelOffset": 14, "labelOverlap": false, "titleFontSize": 68, "titlePadding": 29, "encode": {"title": {"update": {"dx": {"value": -158}}}, "labels": {"update": {"baseline": {"value": "middle"}}}}}}
 }},
{"data": {"name": "cellsB"}, "transform": [{"filter": "datum.c != datum.rw"}],
 "mark": {"type": "point", "filled": true, "opacity": 1, "shape": "M-0.8,-1L0.8,-1Q0.95,-1 0.95,-0.85L0.95,0.85Q0.95,1 0.8,1L-0.8,1Q-0.95,1 -0.95,0.85L-0.95,-0.85Q-0.95,-1 -0.8,-1Z", "stroke": "#3A3A3A", "strokeWidth": 3},
 "encoding": {
  "x": {"field": "c", "type": "quantitative", "scale": {"domain": [-4.361, 22.939], "nice": false, "zero": false}, "axis": null},
  "y": {"field": "rw", "type": "quantitative", "scale": {"domain": [-2.508, 12.992], "reverse": true, "nice": false, "zero": false}, "axis": null},
  "color": {"field": "r", "type": "quantitative", "scale": {"domain": [-0.7, 0.15, 1], "range": ["#78C2BB", "#FFFFFF", "#F47B5C"], "interpolate": "rgb"},
   "legend": {"title": "Pearson's r", "orient": "none", "legendX": 2366, "legendY": 167, "direction": "vertical", "gradientLength": 675, "gradientThickness": 98, "gradientStrokeColor": "black", "gradientStrokeWidth": 4, "values": [-0.7,-0.5,0,0.5,1], "format": ".2~f", "labelFontSize": 52, "labelBaseline": "middle", "labelOffset": 14, "labelOverlap": false, "titleFontSize": 68, "titlePadding": 29, "encode": {"title": {"update": {"dx": {"value": -158}}}, "labels": {"update": {"baseline": {"value": "middle"}}}}}},
  "size": {"field": "r", "type": "quantitative", "scale": {"domain": [-1, 0, 1], "range": [11236, 0, 11236]}, "legend": null}
 }},
{"data": {"name": "cellsB"}, "transform": [{"filter": "datum.s != ''"}],
 "mark": {"type": "text", "fontSize": 40, "fontWeight": "bold", "color": "#3A3A3A", "baseline": "middle", "align": "center", "dy": 9},
 "encoding": {
  "x": {"field": "c", "type": "quantitative", "scale": {"domain": [-4.361, 22.939], "nice": false, "zero": false}, "axis": null},
  "y": {"field": "rw", "type": "quantitative", "scale": {"domain": [-2.508, 12.992], "reverse": true, "nice": false, "zero": false}, "axis": null},
  "text": {"field": "s"}
 }},
{"data": {"name": "vars"},
 "mark": {"type": "rule", "color": "black", "strokeWidth": 4},
 "encoding": {
  "x": {"field": "i", "type": "quantitative", "scale": {"domain": [-4.361, 22.939], "nice": false, "zero": false}, "axis": null},
  "y": {"datum": 0.5, "type": "quantitative", "scale": {"domain": [-2.508, 12.992], "reverse": true, "nice": false, "zero": false}, "axis": null},
  "y2": {"datum": 0.34}
 }},
{"data": {"name": "vars"},
 "mark": {"type": "text", "angle": 45, "align": "right", "baseline": "middle", "dx": -14, "fontSize": 53, "fontWeight": "bold", "color": "black"},
 "encoding": {
  "x": {"field": "i", "type": "quantitative", "scale": {"domain": [-4.361, 22.939], "nice": false, "zero": false}, "axis": null},
  "y": {"datum": 0.23, "type": "quantitative", "scale": {"domain": [-2.508, 12.992], "reverse": true, "nice": false, "zero": false}, "axis": null},
  "text": {"field": "v"}
 }},
{"data": {"name": "vars"},
 "mark": {"type": "rule", "color": "black", "strokeWidth": 4},
 "encoding": {
  "y": {"field": "i", "type": "quantitative", "scale": {"domain": [-2.508, 12.992], "reverse": true, "nice": false, "zero": false}, "axis": null},
  "x": {"datum": 12.5, "type": "quantitative", "scale": {"domain": [-4.361, 22.939], "nice": false, "zero": false}, "axis": null},
  "x2": {"datum": 12.67}
 }},
{"data": {"name": "vars"},
 "mark": {"type": "text", "align": "left", "baseline": "middle", "fontSize": 53, "fontWeight": "bold", "color": "black"},
 "encoding": {
  "y": {"field": "i", "type": "quantitative", "scale": {"domain": [-2.508, 12.992], "reverse": true, "nice": false, "zero": false}, "axis": null},
  "x": {"datum": 12.72, "type": "quantitative", "scale": {"domain": [-4.361, 22.939], "nice": false, "zero": false}, "axis": null},
  "text": {"field": "v"}
 }},
{"data": {"values": [{"t": "(b)"}]},
 "mark": {"type": "text", "align": "left", "baseline": "alphabetic", "fontSize": 92, "fontWeight": "bold", "color": "black"},
 "encoding": {
  "x": {"datum": -2.894, "type": "quantitative", "scale": {"domain": [-4.361, 22.939], "nice": false, "zero": false}, "axis": null},
  "y": {"datum": -0.477, "type": "quantitative", "scale": {"domain": [-2.508, 12.992], "reverse": true, "nice": false, "zero": false}, "axis": null},
  "text": {"field": "t"}
 }},
{"data": {"name": "linksB"},
 "mark": {"type": "line", "interpolate": "natural", "color": "#4B7453", "strokeCap": "round"},
 "encoding": {
  "x": {"field": "x", "type": "quantitative", "scale": {"domain": [-4.361, 22.939], "nice": false, "zero": false}, "axis": null},
  "y": {"field": "y", "type": "quantitative", "scale": {"domain": [-2.508, 12.992], "reverse": true, "nice": false, "zero": false}, "axis": null},
  "detail": {"field": "id"},
  "order": {"field": "k", "type": "quantitative"},
  "strokeWidth": {"field": "w", "type": "nominal", "scale": {"type": "ordinal", "domain": ["< 0.2", "0.2-0.4", "> 0.4"], "range": [3.5, 7.5, 12.5]},
   "legend": {"title": "Mantel’s r", "orient": "none", "legendX": 2408, "legendY": 1400, "direction": "vertical", "symbolType": "stroke", "symbolSize": 12321, "symbolOffset": 56, "labelOffset": 60, "clipHeight": 60, "rowPadding": 18, "titlePadding": 15, "titleFontSize": 70, "labelFontSize": 70, "symbolStrokeColor": "black", "encode": {"symbols": {"update": {"stroke": {"value": "black"}}}}}}
 }},
{"data": {"name": "nodesB"},
 "mark": {"type": "circle", "color": "#E8170F", "stroke": "#4A0A05", "strokeWidth": 2.5, "opacity": 1},
 "encoding": {
  "x": {"field": "x", "type": "quantitative", "scale": {"domain": [-4.361, 22.939], "nice": false, "zero": false}, "axis": null},
  "y": {"field": "y", "type": "quantitative", "scale": {"domain": [-2.508, 12.992], "reverse": true, "nice": false, "zero": false}, "axis": null},
  "size": {"field": "p", "type": "nominal", "scale": {"type": "ordinal", "domain": ["> 0.05", "0.01-0.05"], "range": [841, 240]}, "legend": null}
 }},
{"data": {"name": "nodesB"},
 "mark": {"type": "circle", "color": "#4DA52F", "stroke": "#1E5B14", "strokeWidth": 5, "opacity": 0},
 "encoding": {
  "x": {"field": "x", "type": "quantitative", "scale": {"domain": [-4.361, 22.939], "nice": false, "zero": false}, "axis": null},
  "y": {"field": "y", "type": "quantitative", "scale": {"domain": [-2.508, 12.992], "reverse": true, "nice": false, "zero": false}, "axis": null},
  "size": {"field": "p", "type": "nominal", "scale": {"type": "ordinal", "domain": ["> 0.05", "0.01-0.05"], "range": [9604, 3364]},
   "legend": {"title": "Mantel’s p", "orient": "none", "legendX": 2408, "legendY": 1028, "direction": "vertical", "symbolOffset": 73, "labelOffset": 42, "clipHeight": 100, "rowPadding": 37, "titlePadding": 26, "titleFontSize": 70, "labelFontSize": 70, "symbolOpacity": 1, "symbolFillColor": "#4DA52F", "symbolStrokeColor": "#1E5B14", "symbolStrokeWidth": 5, "encode": {"symbols": {"update": {"opacity": {"value": 1}, "fill": {"value": "#4DA52F"}, "stroke": {"value": "#1E5B14"}}}}}}
 }},
{"data": {"name": "hubs"},
 "mark": {"type": "circle", "size": 3136, "color": "#E31A1C", "stroke": "#4D0000", "strokeWidth": 3, "opacity": 1},
 "encoding": {
  "x": {"field": "x", "type": "quantitative", "scale": {"domain": [-4.361, 22.939], "nice": false, "zero": false}, "axis": null},
  "y": {"field": "y", "type": "quantitative", "scale": {"domain": [-2.508, 12.992], "reverse": true, "nice": false, "zero": false}, "axis": null}
 }},
{"data": {"name": "hubs"},
 "mark": {"type": "text", "align": "right", "baseline": "middle", "dx": -50, "fontSize": 53, "fontWeight": "bold", "color": "black"},
 "encoding": {
  "x": {"field": "x", "type": "quantitative", "scale": {"domain": [-4.361, 22.939], "nice": false, "zero": false}, "axis": null},
  "y": {"field": "y", "type": "quantitative", "scale": {"domain": [-2.508, 12.992], "reverse": true, "nice": false, "zero": false}, "axis": null},
  "text": {"field": "h"}
 }}
]
}
]
}
